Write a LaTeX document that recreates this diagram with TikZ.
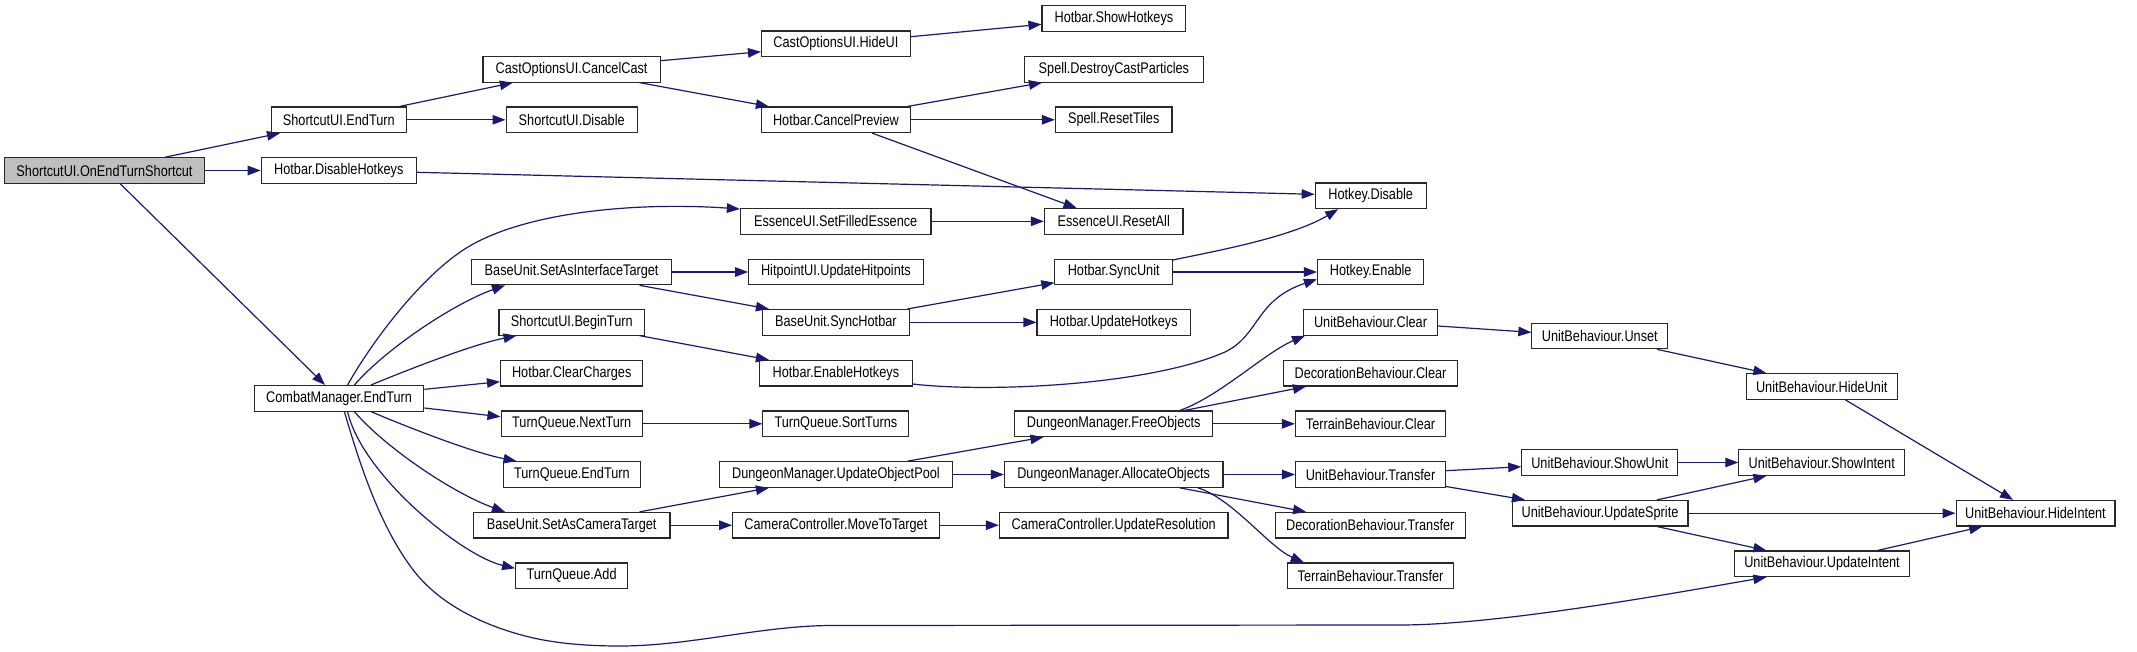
\documentclass[tikz,border=0pt]{standalone}
\usepackage{fontspec}
\setmainfont{Liberation Sans}[FakeStretch=0.825]
\usetikzlibrary{arrows.meta}
\definecolor{edgeblue}{RGB}{25,25,112}
\definecolor{rootgray}{RGB}{191,191,191}
\definecolor{boxline}{RGB}{40,40,40}
\begin{document}
\begin{tikzpicture}[x=1pt,y=-1pt,
  fn/.style={draw=boxline, line width=1.1pt, fill=white, inner sep=0pt,
    minimum height=25.6pt, font=\fontsize{15.4}{18}\selectfont},
  root/.style={fn, fill=rootgray},
  call/.style={draw=edgeblue, line width=1.2pt, -{Triangle[length=13pt,width=9.5pt]}}]
\useasboundingbox[fill=white] (0,0) rectangle (2137,651);

% nodes
\node[root, minimum width=200pt]   (n0)  at (104.5,170.5) {ShortcutUI.OnEndTurnShortcut};
\node[fn, minimum width=135pt]     (n1)  at (338.8,119.8) {ShortcutUI.EndTurn};
\node[fn, minimum width=177.2pt]   (n2)  at (571.6,69.3)  {CastOptionsUI.CancelCast};
\node[fn, minimum width=131.3pt]   (n3)  at (571.7,119.8) {ShortcutUI.Disable};
\node[fn, minimum width=155.2pt]   (n4)  at (338.8,170.5) {Hotbar.DisableHotkeys};
\node[fn, minimum width=148.8pt]   (n5)  at (835.9,43.8)  {CastOptionsUI.HideUI};
\node[fn, minimum width=143.8pt]   (n6)  at (1113.9,18.5) {Hotbar.ShowHotkeys};
\node[fn, minimum width=178.6pt]   (n7)  at (1113.9,69.3) {Spell.DestroyCastParticles};
\node[fn, minimum width=148.8pt]   (n8)  at (835.9,119.8) {Hotbar.CancelPreview};
\node[fn, minimum width=116.6pt]   (n9)  at (1113.7,119.8) {Spell.ResetTiles};
\node[fn, minimum width=111pt]     (n10) at (1370.7,195.8) {Hotkey.Disable};
\node[fn, minimum width=190.6pt]   (n11) at (835.7,221.3) {EssenceUI.SetFilledEssence};
\node[fn, minimum width=138.6pt]   (n12) at (1113.7,221.3) {EssenceUI.ResetAll};
\node[fn, minimum width=200.2pt]   (n13) at (571.6,272)   {BaseUnit.SetAsInterfaceTarget};
\node[fn, minimum width=174.4pt]   (n14) at (835.9,272)   {HitpointUI.UpdateHitpoints};
\node[fn, minimum width=117.6pt]   (n15) at (1113.7,272)  {Hotbar.SyncUnit};
\node[fn, minimum width=106.4pt]   (n16) at (1370.7,272)  {Hotkey.Enable};
\node[fn, minimum width=145.6pt]   (n17) at (571.8,322.3) {ShortcutUI.BeginTurn};
\node[fn, minimum width=147pt]     (n18) at (835.9,322.3) {BaseUnit.SyncHotbar};
\node[fn, minimum width=153.4pt]   (n19) at (1113.7,322.3) {Hotbar.UpdateHotkeys};
\node[fn, minimum width=134.3pt]   (n20) at (1370.5,322.3) {UnitBehaviour.Clear};
\node[fn, minimum width=135.9pt]   (n21) at (1599.8,336)  {UnitBehaviour.Unset};
\node[fn, minimum width=151pt]     (n22) at (1821.7,386.5) {UnitBehaviour.HideUnit};
\node[fn, minimum width=169.4pt]   (n23) at (339.1,398.3) {CombatManager.EndTurn};
\node[fn, minimum width=142.3pt]   (n24) at (571.7,373.2) {Hotbar.ClearCharges};
\node[fn, minimum width=152.4pt]   (n25) at (835.9,373.2) {Hotbar.EnableHotkeys};
\node[fn, minimum width=173.8pt]   (n26) at (1370.5,373.2) {DecorationBehaviour.Clear};
\node[fn, minimum width=141.3pt]   (n27) at (571.7,423.8) {TurnQueue.NextTurn};
\node[fn, minimum width=146pt]     (n28) at (835.9,423.8) {TurnQueue.SortTurns};
\node[fn, minimum width=198.4pt]   (n29) at (1113.7,423.8) {DungeonManager.FreeObjects};
\node[fn, minimum width=150pt]     (n30) at (1370.5,423.8) {TerrainBehaviour.Clear};
\node[fn, minimum width=137.3pt]   (n31) at (571.9,474.5) {TurnQueue.EndTurn};
\node[fn, minimum width=232.3pt]   (n32) at (835.9,474.5) {DungeonManager.UpdateObjectPool};
\node[fn, minimum width=218.6pt]   (n33) at (1113.7,474.5) {DungeonManager.AllocateObjects};
\node[fn, minimum width=150pt]     (n34) at (1370.5,474.5) {UnitBehaviour.Transfer};
\node[fn, minimum width=156.1pt]   (n35) at (1599.8,462.5) {UnitBehaviour.ShowUnit};
\node[fn, minimum width=165.8pt]   (n36) at (1821.7,462.5) {UnitBehaviour.ShowIntent};
\node[fn, minimum width=196.5pt]   (n37) at (571.7,525.2) {BaseUnit.SetAsCameraTarget};
\node[fn, minimum width=206.6pt]   (n38) at (835.9,525.2) {CameraController.MoveToTarget};
\node[fn, minimum width=228.6pt]   (n39) at (1113.7,525.2) {CameraController.UpdateResolution};
\node[fn, minimum width=189.9pt]   (n40) at (1370.3,525.2) {DecorationBehaviour.Transfer};
\node[fn, minimum width=175.9pt]   (n41) at (1600,513.2)  {UnitBehaviour.UpdateSprite};
\node[fn, minimum width=158.9pt]   (n42) at (2035.5,513.2) {UnitBehaviour.HideIntent};
\node[fn, minimum width=112pt]     (n43) at (571.6,575.8) {TurnQueue.Add};
\node[fn, minimum width=165.6pt]   (n44) at (1370.5,575.8) {TerrainBehaviour.Transfer};
\node[fn, minimum width=174.5pt]   (n45) at (1822,563.8)  {UnitBehaviour.UpdateIntent};

% edges
\draw[call] ([xshift=60.8pt]n0.north) -- ([xshift=-58.8pt]n1.south);
\draw[call] (n0.east) -- (n4.west);
\draw[call] ([xshift=15.8pt]n0.south) -- ([xshift=-14.1pt]n23.north);
\draw[call] ([xshift=60.6pt]n1.north) -- ([xshift=-58.7pt]n2.south);
\draw[call] (n1.east) -- (n3.west);
\draw[call] ([yshift=-1.8pt]n4.east) -- ([yshift=1.5pt]n10.west);
\draw[call] ([yshift=8.6pt]n2.east) -- ([yshift=-7.9pt]n5.west);
\draw[call] ([xshift=68pt]n2.south) -- ([xshift=-67pt]n8.north);
\draw[call] ([yshift=7.1pt]n5.east) -- ([yshift=-5.8pt]n6.west);
\draw[call] ([xshift=71.6pt]n8.north) -- ([xshift=-71.9pt]n7.south);
\draw[call] (n8.east) -- (n9.west);
\draw[call] ([xshift=36.3pt]n8.south) -- ([xshift=-37.2pt]n12.north);
\draw[call] ([xshift=8.5pt]n23.north) .. controls (372.4,340.7) and (423,274) .. (468,247)
  .. controls (528,211) and (640,202) .. ([yshift=12.3pt]n11.west);
\draw[call] (n11.east) -- (n12.west);
\draw[call] ([xshift=15.3pt]n23.north) .. controls (386.9,347.7) and (455,303) .. ([xshift=-66.6pt]n13.south);
\draw[call] (n13.east) -- (n14.west);
\draw[call] ([xshift=68pt]n13.south) -- ([xshift=-67pt]n18.north);
\draw[call] ([xshift=71.6pt]n18.north) -- ([yshift=-10.7pt]n15.west);
\draw[call] (n18.east) -- (n19.west);
\draw[call] ([yshift=12pt]n15.east) .. controls (1210,252) and (1290,238) .. ([xshift=-32.5pt]n10.south);
\draw[call] (n15.east) -- (n16.west);
\draw[call] ([xshift=31.9pt]n23.north) .. controls (400,373) and (470,345) .. ([xshift=-55.3pt]n17.south);
\draw[call] ([xshift=67.8pt]n17.south) -- ([xshift=-67pt]n25.north);
\draw[call] ([yshift=-10.8pt]n25.east) .. controls (990,393) and (1150,385) .. (1225,352)
  .. controls (1260,335) and (1255,300) .. ([yshift=-7.3pt]n16.west);
\draw[call] ([yshift=9pt]n23.east) -- ([yshift=-8.5pt]n24.west);
\draw[call] ([yshift=-9.7pt]n23.east) -- ([yshift=7.1pt]n27.west);
\draw[call] (n27.east) -- (n28.west);
\draw[call] ([xshift=31.9pt]n23.south) .. controls (400,424) and (470,452) .. ([xshift=-55.4pt]n31.north);
\draw[call] ([xshift=15.3pt]n23.south) .. controls (386.9,449.3) and (455,494) .. ([xshift=-66.7pt]n37.north);
\draw[call] ([xshift=67.9pt]n37.north) -- ([xshift=-67pt]n32.south);
\draw[call] (n37.east) -- (n38.west);
\draw[call] (n38.east) -- (n39.west);
\draw[call] ([xshift=71.6pt]n32.north) -- ([xshift=-70.3pt]n29.south);
\draw[call] (n32.east) -- (n33.west);
\draw[call] ([xshift=66.1pt]n29.north) .. controls (1219.8,396.3) and (1265,352.6) .. ([xshift=-65.5pt]n20.south);
\draw[call] ([xshift=70.7pt]n29.north) -- ([xshift=-64.5pt]n26.south);
\draw[call] (n29.east) -- (n30.west);
\draw[call] (n33.east) -- (n34.west);
\draw[call] ([xshift=66.1pt]n33.south) -- ([xshift=-64.3pt]n40.north);
\draw[call] ([xshift=84.3pt]n33.south) .. controls (1233,499) and (1268.8,547) .. ([xshift=-66.7pt]n44.north);
\draw[call] ([yshift=-3.7pt]n20.east) -- ([yshift=3.7pt]n21.west);
\draw[call] ([xshift=57.3pt]n21.south) -- ([xshift=-55.3pt]n22.north);
\draw[call] ([xshift=23.7pt]n22.south) -- ([xshift=-22.5pt]n42.north);
\draw[call] ([yshift=3.8pt]n34.east) -- ([yshift=-4.2pt]n35.west);
\draw[call] ([yshift=-12pt]n34.east) -- ([xshift=-75.1pt]n41.north);
\draw[call] (n35.east) -- (n36.west);
\draw[call] ([xshift=57.1pt]n41.north) -- ([xshift=-55.3pt]n36.south);
\draw[call] (n41.east) -- (n42.west);
\draw[call] ([xshift=57.1pt]n41.south) -- ([xshift=-55.6pt]n45.north);
\draw[call] ([xshift=55.5pt]n45.north) -- ([xshift=-53.3pt]n42.south);
\draw[call] ([xshift=5.3pt]n23.south) .. controls (359.8,464.5) and (379.7,526) .. (413.2,570)
  .. controls (440,605.2) and (485.3,626.1) .. (528,636.7)
  .. controls (557,643.9) and (589.8,646) .. (619.8,646)
  .. controls (689.8,646) and (760,626) .. (830,625.5)
  -- (1400,625)
  .. controls (1500,625) and (1680,592) .. ([xshift=-55.6pt]n45.south);
\draw[call] ([xshift=8.5pt]n23.south) .. controls (362,475) and (462,556) .. ([yshift=7.5pt]n43.west);
\end{tikzpicture}
\end{document}
